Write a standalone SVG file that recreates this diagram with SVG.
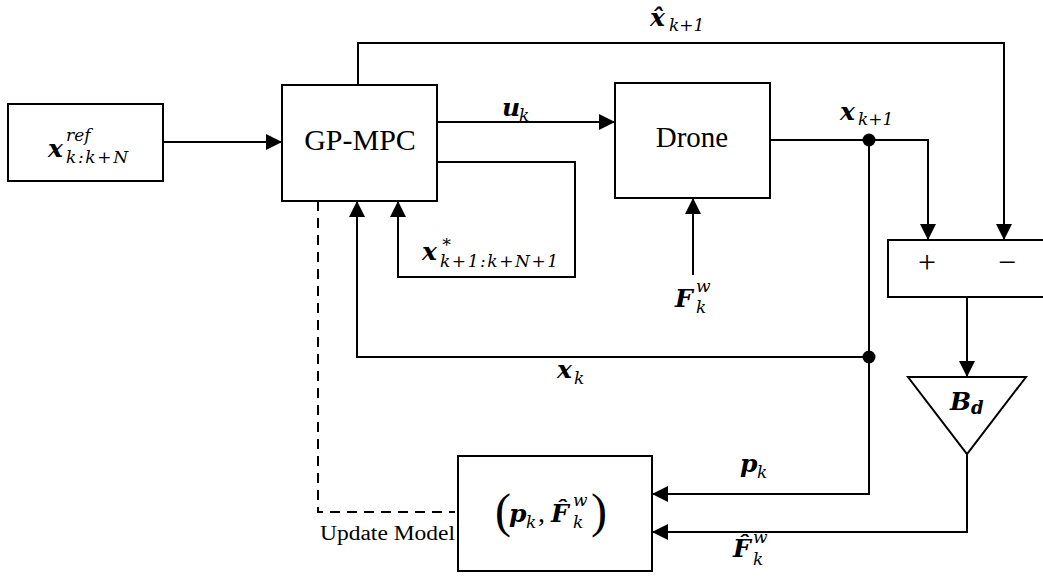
<svg xmlns="http://www.w3.org/2000/svg" width="1043" height="581" viewBox="0 0 1043 581">
<style>
.box{fill:#fff;stroke:#000;stroke-width:2}
.ln{fill:none;stroke:#000;stroke-width:2}
.dash{fill:none;stroke:#000;stroke-width:2;stroke-dasharray:10,7}
.rm{font-family:"Liberation Serif",serif;fill:#000}
.m{font-family:"DejaVu Serif",serif;fill:#000}
.bi{font-family:"DejaVu Serif",serif;font-weight:bold;font-style:italic;font-size:25px}
.it{font-family:"DejaVu Serif",serif;font-style:italic;font-weight:normal;font-size:17px}
.pr{font-family:"Liberation Serif",serif;font-style:normal;font-weight:normal;font-size:48px}
</style>
<defs>
<marker id="ah" markerUnits="userSpaceOnUse" markerWidth="16" markerHeight="16" refX="16" refY="8" orient="auto">
<path d="M0,0 L16,8 L0,16 z" fill="#000"/>
</marker>
</defs>
<rect width="1043" height="581" fill="#fff"/>
<g id="connectors">
<path class="ln" d="M163,142 H282" marker-end="url(#ah)"/>
<path class="ln" d="M358,85 V43 H1004 V240" marker-end="url(#ah)"/>
<path class="ln" d="M437,122 H615" marker-end="url(#ah)"/>
<path class="ln" d="M437,162 H575 V277 H398 V201" marker-end="url(#ah)"/>
<path class="ln" d="M770,140 H928 V240" marker-end="url(#ah)"/>
<path class="ln" d="M869,140 V494 H652" marker-end="url(#ah)"/>
<path class="ln" d="M869,357 H357 V201" marker-end="url(#ah)"/>
<path class="ln" d="M693,275 V198" marker-end="url(#ah)"/>
<path class="ln" d="M967,297 V377" marker-end="url(#ah)"/>
<path class="ln" d="M967,454 V532 H652" marker-end="url(#ah)"/>
<path class="dash" d="M318,201 V512 H455"/>
<circle cx="869" cy="140" r="6.5" fill="#000"/>
<circle cx="869" cy="357" r="6.5" fill="#000"/>
<text class="m"><tspan class="bi" x="650" y="26">x̂</tspan><tspan class="it" x="669" y="31">k+1</tspan></text>
<text class="m"><tspan class="bi" x="502" y="116">u</tspan><tspan class="it" x="519" y="121">k</tspan></text>
<text class="m"><tspan class="bi" x="840" y="120">x</tspan><tspan class="it" x="858" y="125">k+1</tspan></text>
<text class="m"><tspan class="bi" x="422" y="260">x</tspan><tspan class="it" x="441" y="247">∗</tspan><tspan class="it" x="440" y="267" textLength="118" lengthAdjust="spacing">k+1:k+N+1</tspan></text>
<text class="m"><tspan class="bi" x="675" y="307">F</tspan><tspan class="it" x="696" y="292">w</tspan><tspan class="it" x="696" y="313">k</tspan></text>
<text class="m"><tspan class="bi" x="557" y="378">x</tspan><tspan class="it" x="574" y="384">k</tspan></text>
<text class="m"><tspan class="bi" x="740" y="472">p</tspan><tspan class="it" x="757" y="478">k</tspan></text>
<text class="m"><tspan class="bi" x="733" y="557">F̂</tspan><tspan class="it" x="753" y="543">w</tspan><tspan class="it" x="753" y="565">k</tspan></text>
<text class="rm" x="320" y="540" font-size="20" fill="#222" textLength="135" lengthAdjust="spacingAndGlyphs">Update Model</text>
</g>
<g id="ref">
<rect class="box" x="8" y="104" width="155" height="77"/>
<text class="m"><tspan class="bi" x="48" y="157">x</tspan><tspan class="it" x="66" y="141">ref</tspan><tspan class="it" x="66" y="163" textLength="62" lengthAdjust="spacing">k:k+N</tspan></text>
</g>
<g id="gpmpc">
<rect class="box" x="282" y="85" width="155" height="116"/>
<text class="rm" x="360" y="150" font-size="30" text-anchor="middle">GP-MPC</text>
</g>
<g id="drone">
<rect class="box" x="615" y="83" width="155" height="115"/>
<text class="rm" x="692" y="147" font-size="29" text-anchor="middle">Drone</text>
</g>
<g id="sum">
<rect class="box" x="888" y="240" width="170" height="57"/>
<text class="rm" x="927" y="273" font-size="32" text-anchor="middle" fill="#444">+</text>
<text class="rm" x="1007" y="273" font-size="32" text-anchor="middle" fill="#444">−</text>
</g>
<g id="bd">
<path class="box" d="M908,377 H1026 L967,454 Z"/>
<text class="m"><tspan class="bi" x="950" y="410">B</tspan><tspan class="bi" x="971" y="414" style="font-size:18px">d</tspan></text>
</g>
<g id="estimator">
<rect class="box" x="458" y="456" width="194" height="115"/>
<text class="m"><tspan class="pr" x="495" y="527">(</tspan><tspan class="bi" x="509" y="522">p</tspan><tspan class="it" x="526" y="528">k</tspan><tspan class="rm" x="538" y="522" style="font-size:28px">,</tspan><tspan class="bi" x="551" y="522">F̂</tspan><tspan class="it" x="573" y="506">w</tspan><tspan class="it" x="573" y="528">k</tspan><tspan class="pr" x="591" y="527">)</tspan></text>
</g>
</svg>
